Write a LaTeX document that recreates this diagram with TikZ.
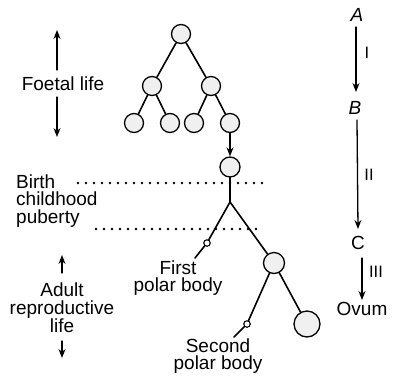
\documentclass[tikz,border=0pt]{standalone}
\usepackage{fontspec}
\setmainfont{Liberation Sans}
\usetikzlibrary{arrows.meta}

\begin{document}
\begin{tikzpicture}[x=1pt, y=-1pt, line cap=round, line join=round,
  cell/.style={circle, draw, line width=1.3pt, inner sep=0pt, minimum size=19pt, fill=gray!12},
  polar/.style={circle, draw, line width=1.1pt, inner sep=0pt, minimum size=6.5pt, fill=white},
  branch/.style={line width=1.6pt},
  lbl/.style={inner sep=0pt, font=\fontsize{19}{17.5}\selectfont, align=center},
  llbl/.style={lbl, align=left, anchor=west},
  num/.style={inner sep=0pt, font=\fontsize{16.5}{17}\selectfont},
  stage/.style={line width=1.3pt, -{Stealth[length=9pt, width=7pt]}},
  dots/.style={line width=2.8pt, dash pattern=on 0pt off 8pt}]

  %% ---- tree of divisions ----
  \node[cell] (t1) at (181,34) {};
  \node[cell] (t2a) at (152,86) {};
  \node[cell] (t2b) at (211,86) {};
  \node[cell] (t3a) at (134,123) {};
  \node[cell] (t3b) at (170,123) {};
  \node[cell] (t3c) at (194,123) {};
  \node[cell] (t3d) at (230,123) {};
  \draw[branch] (t1) -- (t2a) (t1) -- (t2b);
  \draw[branch] (t2a) -- (t3a) (t2a) -- (t3b);
  \draw[branch] (t2b) -- (t3c) (t2b) -- (t3d);

  \node[cell, minimum size=20pt] (oc1) at (230,167) {};
  \draw[stage] (t3d) -- (oc1);

  %% ---- birth / puberty lines ----
  \coordinate (b1) at (78,183);  \coordinate (b2) at (262,183);
  \coordinate (p1) at (96,229);  \coordinate (p2) at (262,229);
  \draw[dots] (b1) -- (b2);
  \draw[dots] (p1) -- (p2);

  %% ---- meiotic divisions ----
  \coordinate (jn) at (230,202);
  \node[cell, minimum size=21pt] (oc2) at (274,263) {};
  \node[polar] (pb1) at (207,243) {};
  \coordinate (pb1e) at (195,258);
  \node[cell, minimum size=26pt] (ov) at (307,324) {};
  \node[polar] (pb2) at (247,324) {};
  \coordinate (pb2e) at (234,337);
  \draw[branch] (oc1) -- (jn);
  \draw[branch] (jn) -- (pb1) (pb1) -- (pb1e);
  \draw[branch] (jn) -- (oc2);
  \draw[branch] (oc2) -- (pb2) (pb2) -- (pb2e);
  \draw[branch] (oc2) -- (ov);

  \node[lbl] (fpb) at (178,278) {First\\polar body};
  \node[lbl] (spb) at (218,356) {Second\\polar body};

  %% ---- left labels ----
  \node[lbl] (foetal) at (63,84) {Foetal life};
  \coordinate (fu) at (57,30);  \coordinate (fd) at (57,137);
  \draw[stage] (57,70) -- (fu);
  \draw[stage] (57,97) -- (fd);

  \node[llbl] (bcp) at (16,201) {Birth\\childhood\\puberty};

  \node[lbl] (adult) at (62,308) {Adult\\reproductive\\life};
  \coordinate (au) at (62,255);  \coordinate (ad) at (62,358);
  \draw[stage] (62,273) -- (au);
  \draw[stage] (62,341) -- (ad);

  %% ---- stages on the right ----
  \node[lbl] (sA) at (357,15) {\itshape A};
  \node[lbl] (sB) at (355,108) {\itshape B};
  \node[lbl] (sC) at (358,243) {C};
  \node[lbl] (sO) at (362,309) {Ovum};
  \draw[stage] (356,27) -- (356,92);
  \draw[stage] (357,120) -- (358,229);
  \draw[stage] (362,258) -- (362,300);
  \node[num] (s1) at (367,53) {I};
  \node[num] (s2) at (369,175) {II};
  \node[num] (s3) at (376,272) {III};

  \pgfresetboundingbox
  \path[use as bounding box] (0,0) rectangle (393,376);
\end{tikzpicture}
\end{document}
